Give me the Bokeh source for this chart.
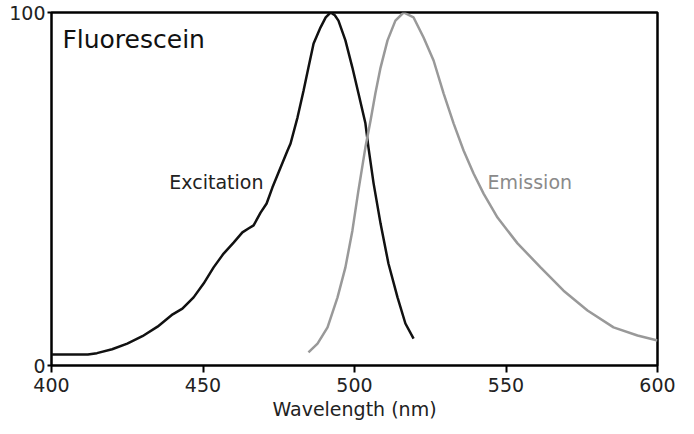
from bokeh.plotting import figure
from bokeh.models import Range1d, FixedTicker, ColumnDataSource
from bokeh.core.properties import value
from bokeh.embed import file_html
from bokeh.resources import INLINE

# Fluorescein excitation spectrum (normalised %)
ex_wavelength = [400, 412, 415, 420, 425, 430, 435, 440, 443.2, 446.9, 450.2, 453.5,
                 456.8, 460.1, 463, 465, 466.7, 469, 471, 472.9, 475.6, 477.9, 478.9,
                 481.2, 483.2, 484.8, 486.5, 488.8, 490.5, 492.1, 493.5, 494.7, 497,
                 499.3, 501.3, 503.6, 504.6, 506.3, 508.6, 511.2, 514.2, 516.8, 519.5]
ex_intensity = [3.1, 3.1, 3.5, 4.6, 6.2, 8.3, 11, 14.5, 16.1, 19.3, 23.2, 27.8,
                31.7, 34.8, 37.7, 38.8, 39.7, 43.3, 45.9, 50.4, 56.1, 60.9, 62.9,
                70.3, 77.9, 84.4, 91.2, 95.8, 98.6, 100, 99.2, 97.7, 92.1,
                84.4, 77.1, 68.6, 61.8, 51.6, 40.2, 28.9, 19.3, 11.9, 7.6]

# Fluorescein emission spectrum (normalised %)
em_wavelength = [484.8, 487.8, 491.1, 494.4, 497, 499.3, 501.3, 503.6, 505.3, 506.9,
                 508.6, 510.9, 513.5, 516.2, 519.5, 522.8, 526.1, 529.4, 532.7, 536,
                 539.3, 542.6, 547.2, 553.8, 561.4, 569, 576.9, 585.5, 593.4, 600]
em_intensity = [3.7, 6.2, 10.8, 19.3, 27.8, 38.2, 49.6, 61.8, 69.4, 77.1,
                84.4, 92.1, 97.7, 100, 98.6, 92.9, 86.4, 77.1, 68.6, 60.9,
                54.4, 48.7, 41.9, 34.6, 27.8, 21.2, 15.6, 10.8, 8.5, 7.1]

x_ticks = [400, 450, 500, 550, 600]
y_ticks = [0, 100]

FONT = "DejaVu Sans"

p = figure(width=694, height=434, output_backend="svg", toolbar_location=None,
           x_range=Range1d(400, 600), y_range=Range1d(0, 100),
           min_border_left=51, min_border_right=37, min_border_top=12,
           min_border_bottom=69)

p.background_fill_color = "white"
p.border_fill_color = "white"
p.outline_line_color = "black"
p.outline_line_width = 2.5
p.grid.visible = False

for ax in (p.xaxis, p.yaxis):
    ax.axis_line_color = None
    ax.major_tick_line_color = "black"
    ax.major_tick_line_width = 2
    ax.minor_tick_line_color = None
    ax.major_tick_in = 0
    ax.major_label_text_font = FONT
    ax.major_label_text_font_size = "19px"
    ax.major_label_text_color = "#222222"

p.xaxis.ticker = FixedTicker(ticks=x_ticks)
p.xaxis.major_tick_out = 7
p.xaxis.major_label_standoff = 5
p.xaxis.axis_label = "Wavelength (nm)"
p.xaxis.axis_label_text_font = FONT
p.xaxis.axis_label_text_font_size = "19px"
p.xaxis.axis_label_text_font_style = "normal"
p.xaxis.axis_label_text_color = "#222222"
p.xaxis.axis_label_standoff = 3

p.yaxis.ticker = FixedTicker(ticks=y_ticks)
p.yaxis.major_tick_out = 4
p.yaxis.major_label_standoff = 2

p.line(ex_wavelength, ex_intensity, line_color="#111111", line_width=2.5)
p.line(em_wavelength, em_intensity, line_color="#999999", line_width=2.5)

labels = ColumnDataSource(dict(x=[438.9, 543.9], y=[51.9, 52.1],
                               t=["Excitation", "Emission"],
                               c=["#222222", "#8a8a8a"]))
p.text(x="x", y="y", text="t", text_color="c", source=labels,
       text_font=value(FONT), text_font_size="19px",
       text_align="left", text_baseline="alphabetic")

p.text(x=[403.6], y=[92.4], text=["Fluorescein"], text_color="#111111",
       text_font=value(FONT), text_font_size="25px",
       text_align="left", text_baseline="alphabetic")

open("out.html", "w").write(file_html(p, INLINE))
